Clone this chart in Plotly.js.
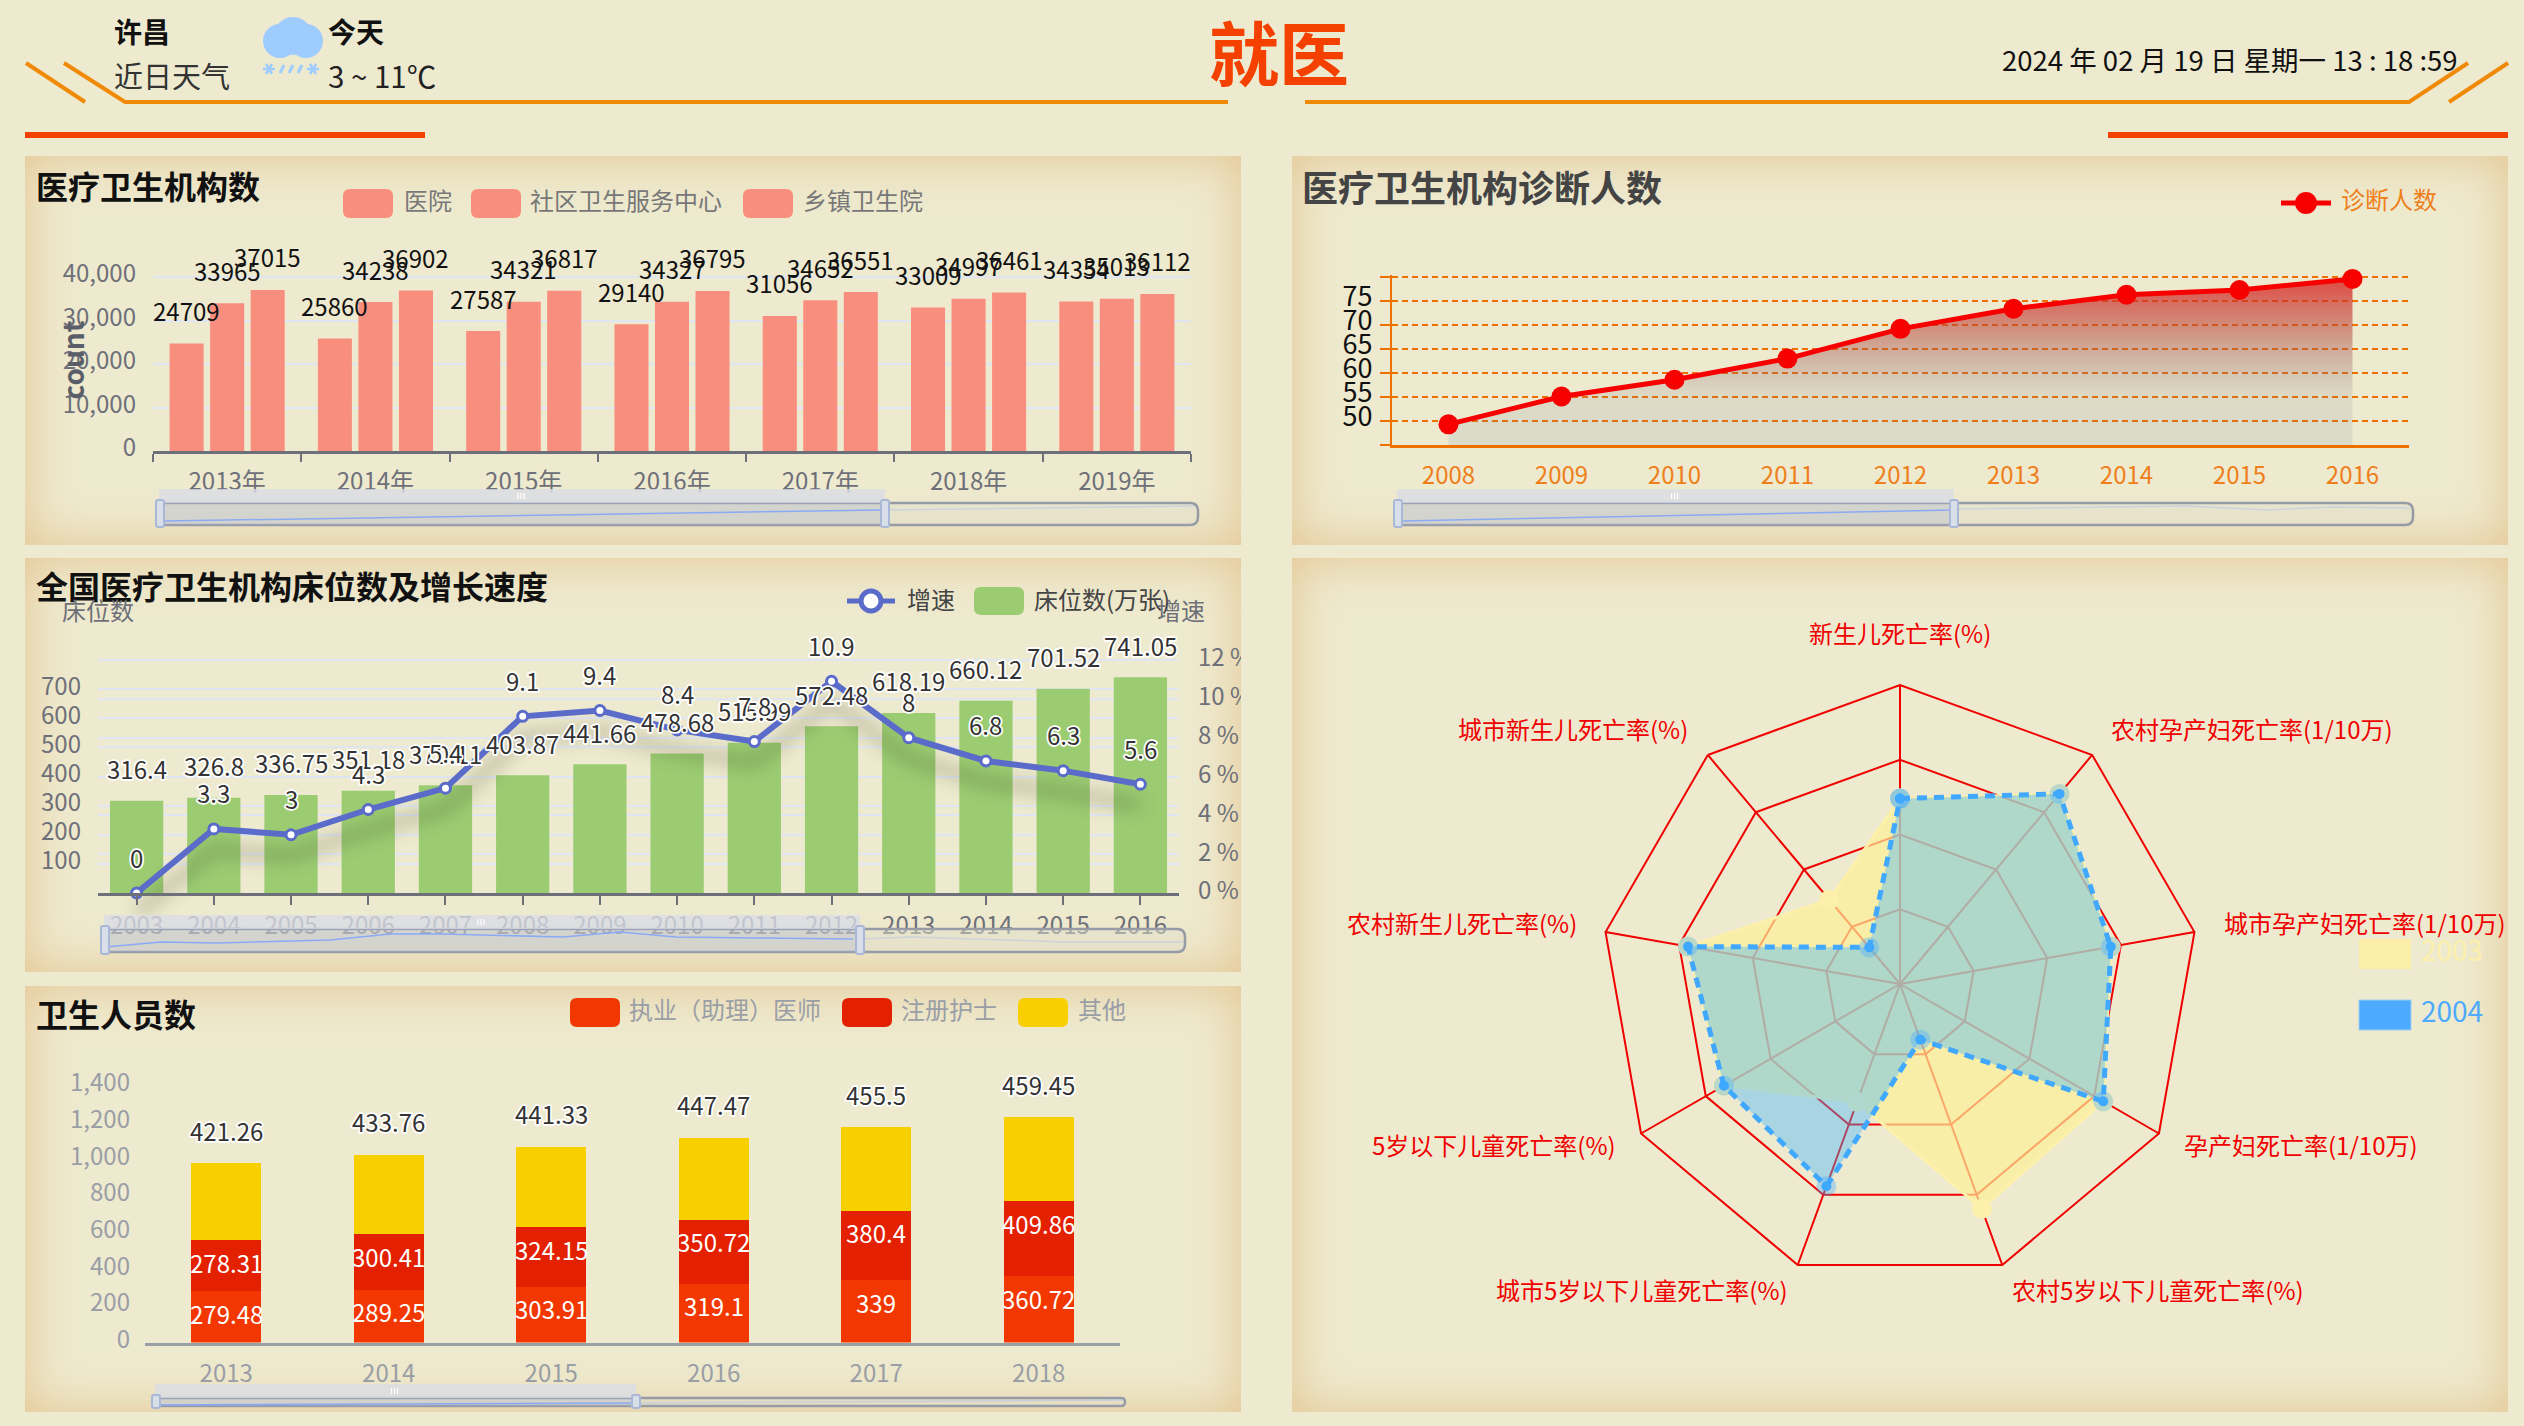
<!DOCTYPE html>
<html lang="zh">
<head>
<meta charset="utf-8">
<title>就医</title>
<script src="https://cdn.plot.ly/plotly-3.0.1.min.js"></script>
<style>
html,body{margin:0;padding:0;background:#EEEACF;width:2524px;height:1426px;overflow:hidden}
.panel{position:absolute;background:#EEEACF;box-shadow:inset 0 0 50px rgba(226,188,130,.8)}
.layer{position:absolute;left:0;top:0;width:2524px;height:1426px;pointer-events:none}
</style>
</head>
<body>
<div class="panel" style="left:25px;top:156px;width:1216px;height:389px"></div>
<div class="panel" style="left:1292px;top:156px;width:1216px;height:389px"></div>
<div class="panel" style="left:25px;top:558px;width:1216px;height:414px"></div>
<div class="panel" style="left:25px;top:986px;width:1216px;height:426px"></div>
<div class="panel" style="left:1292px;top:558px;width:1216px;height:854px"></div>
<div class="layer" id="head"></div>
<div class="layer" id="c1"></div>
<div class="layer" id="c2"></div>
<div class="layer" id="c3" style="clip-path:inset(558px 1283px 454px 25px)"></div>
<div class="layer" id="c4"></div>
<div class="layer" id="c5"></div>
<script>
// ---------- data ----------
const years1 = ['2013年','2014年','2015年','2016年','2017年','2018年','2019年'];
const hospitals = [24709,25860,27587,29140,31056,33009,34354];
const communityCentres = [33965,34238,34321,34327,34652,34997,35013];
const townshipCentres = [37015,36902,36817,36795,36551,36461,36112];

const years2 = ['2008','2009','2010','2011','2012','2013','2014','2015','2016'];
const diagnosed = [49.3,55.1,58.6,63,69.2,73.4,76.3,77.3,79.6];
const diagTickVals = [45,50,55,60,65,70,75,80];
const diagTickText = ['','50','55','60','65','70','75',''];

const years3 = ['2003','2004','2005','2006','2007','2008','2009','2010','2011','2012','2013','2014','2015','2016'];
const beds = [316.4,326.8,336.75,351.18,370.11,403.87,441.66,478.68,515.99,572.48,618.19,660.12,701.52,741.05];
const growth = [0,3.3,3,4.3,5.4,9.1,9.4,8.4,7.8,10.9,8,6.8,6.3,5.6];
const bedTickVals = [0,100,200,300,400,500,600,700,800];
const bedTickText = ['','100','200','300','400','500','600','700',''];

const years4 = ['2013','2014','2015','2016','2017','2018'];
const doctors = [279.48,289.25,303.91,319.1,339,360.72];
const nurses = [278.31,300.41,324.15,350.72,380.4,409.86];
const otherStaff = [421.26,433.76,441.33,447.47,455.5,459.45];

const indicators = ['新生儿死亡率(%)','农村孕产妇死亡率(1/10万)','城市孕产妇死亡率(1/10万)','孕产妇死亡率(1/10万)','农村5岁以下儿童死亡率(%)','城市5岁以下儿童死亡率(%)','5岁以下儿童死亡率(%)','农村新生儿死亡率(%)','城市新生儿死亡率(%)'];
const rate2003 = [62,83,71.6,78.5,80,42,68,72,36.8];
const rate2004 = [62,83,71.6,78.5,19.8,72,68,72,16];

// ---------- helpers ----------
const W=2524,H=1426,F='"Noto Sans CJK SC","Noto Sans",sans-serif';
const px=x=>x/W, py=y=>1-y/H;
function txt(text,x,y,size,color,o={}){
  const a=o.anchor||'left';
  const dx=a==='left'?-2:(a==='right'?3:0);
  return {text,xref:'paper',yref:'paper',x:px(x+dx),y:py(y-2.5),xanchor:a,yanchor:'middle',showarrow:false,textangle:o.angle||0,
    font:{family:F,size,color,weight:o.weight||400,style:o.style||'normal'}};
}
function rpath(x0,y0,x1,y1,r){
  const X=px,Y=py;
  return `M${X(x0+r)},${Y(y0)} L${X(x1-r)},${Y(y0)} Q${X(x1)},${Y(y0)} ${X(x1)},${Y(y0+r)} L${X(x1)},${Y(y1-r)} Q${X(x1)},${Y(y1)} ${X(x1-r)},${Y(y1)} L${X(x0+r)},${Y(y1)} Q${X(x0)},${Y(y1)} ${X(x0)},${Y(y1-r)} L${X(x0)},${Y(y0+r)} Q${X(x0)},${Y(y0)} ${X(x0+r)},${Y(y0)} Z`;
}
function rrect(x0,y0,x1,y1,r,fill,lc,lw){
  return {type:'path',xref:'paper',yref:'paper',path:rpath(x0,y0,x1,y1,r),fillcolor:fill,line:{color:lc||'rgba(0,0,0,0)',width:lw||0},layer:'above'};
}
function rect(x0,y0,x1,y1,fill,lc,lw){
  return {type:'rect',xref:'paper',yref:'paper',x0:px(x0),x1:px(x1),y0:py(y0),y1:py(y1),fillcolor:fill,line:{color:lc||'rgba(0,0,0,0)',width:lw||0},layer:'above'};
}
function seg(x0,y0,x1,y1,color,width){
  return {type:'line',xref:'paper',yref:'paper',x0:px(x0),x1:px(x1),y0:py(y0),y1:py(y1),line:{color,width},layer:'above'};
}
function poly(pts,color,width){
  return {type:'path',xref:'paper',yref:'paper',path:pts.map((p,i)=>(i?'L':'M')+px(p[0])+','+py(p[1])).join(' '),line:{color,width},fillcolor:'rgba(0,0,0,0)',layer:'above'};
}
function disc(cx,cy,r,fill){
  return {type:'circle',xref:'paper',yref:'paper',x0:px(cx-r),x1:px(cx+r),y0:py(cy-r),y1:py(cy+r),fillcolor:fill,line:{width:0},layer:'above'};
}
// dataZoom-like slider furniture
function slider(s){
  const out=[];
  out.push(rrect(s.left,s.top,s.right,s.bottom,s.rad,'rgba(226,224,206,.5)','#969ba6',2.5));
  out.push(rect(s.left+2,s.top,s.sel,s.bottom,'rgba(170,180,215,.3)'));
  out.push(poly(s.faint,'rgba(170,190,240,.45)',1.5));
  out.push(poly(s.line,'rgba(130,165,250,.9)',1.5));
  out.push(rect(s.left+2,s.handleTop,s.sel,s.top,'rgba(218,221,231,.78)'));
  const mid=(s.left+s.sel)/2;
  [-3,0,3].forEach(d=>out.push(seg(mid+d,s.handleTop+4,mid+d,s.handleTop+10,'#fff',1.2)));
  [s.left+3,s.sel].forEach(x=>out.push(rrect(x-4,s.top-3,x+4,s.bottom+2,2,'#d8dfe8','#aab8d8',2)));
  return out;
}
function base(extra){
  return Object.assign({width:W,height:H,margin:{l:0,r:0,t:0,b:0},paper_bgcolor:'rgba(0,0,0,0)',plot_bgcolor:'rgba(0,0,0,0)',showlegend:false,font:{family:F}},extra);
}
function outline(gd,n){
  gd.querySelectorAll('.annotation').forEach(a=>{
    if(+a.getAttribute('data-index')<n){
      const t=a.querySelector('text');
      if(t){t.style.stroke='#fff';t.style.strokeWidth='3.5px';t.style.paintOrder='stroke';t.style.strokeLinejoin='round';}
    }
  });
}
const cfg={staticPlot:true,displayModeBar:false};
const GRAY='#6e7079',LGRAY='#9a9ea6',GRID='#e0e6f1';

// ---------- header ----------
const ORANGE='#f08a06',RED='#f54100',SKY='#9fccff';
Plotly.newPlot('head',[],base({
  xaxis:{visible:false},yaxis:{visible:false},
  shapes:[
    poly([[64,63],[125,102],[1228,102]],ORANGE,4),
    seg(26,63,85,102,ORANGE,4),
    poly([[1305,102],[2409,102],[2468,63]],ORANGE,4),
    seg(2449,102,2508,63,ORANGE,4),
    rect(25,132,425,138,RED),
    rect(2108,132,2508,138,RED),
    disc(293,36,19,SKY),disc(280,41,17,SKY),disc(306,41,17,SKY),
    seg(263,69,275,69,SKY,2.5),seg(266,64,272,74,SKY,2.5),seg(272,64,266,74,SKY,2.5),
    seg(307,69,319,69,SKY,2.5),seg(310,64,316,74,SKY,2.5),seg(316,64,310,74,SKY,2.5),
    seg(280,73,284,65,SKY,3),seg(289,73,293,65,SKY,3),seg(298,73,302,65,SKY,3)
  ],
  annotations:[
    txt('许昌',114,33,28,'#111',{weight:700}),
    txt('近日天气',114,78,29,'#333'),
    txt('今天',328,33,28,'#111',{weight:700}),
    txt('3 ~ 11℃',328,78,29.5,'#222'),
    txt('就医',1279,53,70,RED,{anchor:'center',weight:700}),
    txt('2024 年 02 月 19 日 星期一 13 : 18 :59',2457,62,27.5,'#111',{anchor:'right'})
  ]
}),cfg);

// ---------- panel 1 ----------
(function(){
  const SAL='#f78e7e';
  const sers=[hospitals,communityCentres,townshipCentres];
  const traces=sers.map((v,i)=>({type:'bar',x:years1,y:v,marker:{color:SAL},name:['医院','社区卫生服务中心','乡镇卫生院'][i]}));
  const labels=[];
  sers.forEach((v,i)=>v.forEach((val,j)=>labels.push({x:j,y:val,xref:'x',yref:'y',text:String(val),showarrow:false,
     xshift:(i-1)*40.5,yshift:33,yanchor:'middle',xanchor:'center',font:{family:F,size:24,color:'#111'}})));
  Plotly.newPlot('c1',traces,base({
    barmode:'group',bargap:0.18,bargroupgap:0.16,
    xaxis:{domain:[px(153),px(1191)],type:'category',range:[-0.5,6.5],tickson:'boundaries',ticks:'outside',ticklen:8,tickwidth:2,tickcolor:GRAY,
      showline:true,linecolor:GRAY,linewidth:3,showgrid:false,tickfont:{family:F,size:24,color:GRAY},ticklabelstandoff:7},
    yaxis:{domain:[py(451),py(275.5)],range:[0,40345],tickmode:'linear',tick0:0,dtick:10000,tickformat:',',gridcolor:GRID,gridwidth:2,zeroline:false,showline:false,ticks:'',
      tickfont:{family:F,size:24,color:GRAY},ticklabelstandoff:16,ticklabelshift:-3},
    annotations:labels.concat([
      txt('医疗卫生机构数',36,187,32,'#111',{weight:700}),
      txt('医院',404,202,24,'#777'),txt('社区卫生服务中心',530,202,24,'#777'),txt('乡镇卫生院',803,202,24,'#777'),
      txt('count',71,363,28,'#5a5e68',{weight:700,angle:-90,anchor:'center'})
    ]),
    shapes:[rrect(343,189,393,218,7,SAL),rrect(471,189,521,218,7,SAL),rrect(743,189,793,218,7,SAL)].concat(slider({
      left:157,right:1198,top:503,bottom:525,rad:8,sel:885,handleTop:489,
      line:[[165,521],[880,510]],faint:[[885,510],[1195,506]]
    }))
  }),cfg);
})();

// ---------- panel 2 ----------
(function(){
  const OR='#ee7000';
  Plotly.newPlot('c2',[{type:'scatter',mode:'lines+markers',x:years2,y:diagnosed,name:'诊断人数',cliponaxis:false,
      line:{color:'#f60000',width:5},marker:{color:'#f60000',size:20},
      fill:'tozeroy',fillgradient:{type:'vertical',start:45,stop:80,colorscale:[[0,'rgba(80,110,170,.12)'],[0.3,'rgba(120,110,130,.14)'],[0.65,'rgba(180,70,60,.5)'],[1,'rgba(222,30,30,.8)']]}}],
  base({
    xaxis:{domain:[px(1392),px(2409)],type:'category',range:[-0.5,8.5],showgrid:false,showline:true,linecolor:OR,linewidth:3,ticks:'',
      tickfont:{family:F,size:24,color:'#ee7f1a'},ticklabelstandoff:7},
    yaxis:{domain:[py(445),py(275.1)],range:[45,80.4],tickmode:'array',tickvals:diagTickVals,ticktext:diagTickText,gridcolor:OR,griddash:'6px,4px',gridwidth:2,
      zeroline:false,showline:true,linecolor:OR,linewidth:2,ticks:'outside',ticklen:10,tickcolor:OR,tickwidth:2,
      tickfont:{family:F,size:27,color:'#111'},ticklabelstandoff:2,ticklabelshift:-4},
    annotations:[
      txt('医疗卫生机构诊断人数',1302,189,36,'#444',{weight:700}),
      txt('诊断人数',2341,201,24,'#ee7f1a')
    ],
    shapes:[seg(2281,203,2331,203,'#f60000',5),disc(2306,203,11,'#f60000')
    ].concat(slider({left:1395,right:2413,top:503,bottom:525,rad:8,sel:1954,handleTop:489,
      line:[[1402,521],[1954,510]],faint:[[1956,509],[2187,506],[2267,510],[2332,507],[2410,508]]}))
  }),cfg);
})();

// ---------- panel 3 ----------
(function(){
  const BLUE='#5a6bc9',GREEN='#9bcc72';
  const labels=[];
  beds.forEach((v,i)=>labels.push({x:i,y:v,xref:'x',yref:'y',text:String(v),showarrow:false,yshift:32,yanchor:'middle',xanchor:'center',
    font:{family:F,size:24,color:'#333'}}));
  growth.forEach((v,i)=>labels.push({x:i,y:v,xref:'x',yref:'y2',text:String(v),showarrow:false,yshift:36,yanchor:'middle',xanchor:'center',
    font:{family:F,size:24,color:'#333'}}));
  Plotly.newPlot('c3',[
    {type:'bar',x:years3,y:beds,name:'床位数(万张)',marker:{color:GREEN}},
    {type:'scatter',mode:'lines',x:years3,y:growth,yaxis:'y2',cliponaxis:false,line:{color:'rgba(40,40,20,.3)',width:9},hoverinfo:'skip'},
    {type:'scatter',mode:'lines+markers',x:years3,y:growth,yaxis:'y2',name:'增速',cliponaxis:false,line:{color:BLUE,width:6},
      marker:{color:'#fff',size:10,line:{color:BLUE,width:3}}}
  ],base({
    bargap:0.31,
    xaxis:{domain:[px(98),px(1179)],type:'category',range:[-0.5,13.5],showgrid:false,showline:true,linecolor:GRAY,linewidth:3,ticks:'outside',ticklen:9,tickwidth:2,tickcolor:GRAY,
      tickfont:{family:F,size:24,color:GRAY},ticklabelstandoff:0},
    yaxis:{domain:[py(893),py(658.25)],range:[0,806],tickmode:'array',tickvals:bedTickVals,ticktext:bedTickText,gridcolor:GRID,gridwidth:2,zeroline:false,ticks:'',
      tickfont:{family:F,size:24,color:GRAY},ticklabelstandoff:16,ticklabelshift:-3},
    yaxis2:{overlaying:'y',side:'right',anchor:'x',range:[0,12.09],tickmode:'linear',tick0:0,dtick:2,ticksuffix:' %',gridcolor:GRID,gridwidth:2,showgrid:true,zeroline:false,ticks:'',
      tickfont:{family:F,size:24,color:GRAY},ticklabelstandoff:18,ticklabelshift:-2},
    annotations:labels.concat([
      txt('全国医疗卫生机构床位数及增长速度',36,587,32,'#111',{weight:700}),
      txt('床位数',98,612,24,GRAY,{anchor:'center'}),
      txt('增速',1181,612,24,GRAY,{anchor:'center'}),
      txt('增速',907,601,24,'#444'),
      txt('床位数(万张)',1034,601,24,'#444')
    ]),
    shapes:[seg(847,601,895,601,BLUE,5),
      {type:'circle',xref:'paper',yref:'paper',x0:px(861),x1:px(881),y0:py(591),y1:py(611),fillcolor:'#fff',line:{color:BLUE,width:5},layer:'above'},
      rrect(974,587,1024,615,7,GREEN)
    ].concat(slider({left:102,right:1185,top:929,bottom:952,rad:8,sel:860,handleTop:915,
      line:[[105,947],[161,942],[217,943],[330,940],[390,934],[443,934],[563,937],[620,932],[676,937],[757,938],[853,939]],
      faint:[[860,939],[910,937],[1006,940],[1062,942],[1183,942]]}))
  }),cfg).then(gd=>{
    const t=gd.querySelectorAll('.scatterlayer .trace');
    if(t[0]){t[0].style.filter='blur(9px)';t[0].style.transform='translateY(21px)';}
    outline(gd,labels.length);
  });
})();

// ---------- panel 4 ----------
(function(){
  const C=['#f23700','#e32000','#f8d000'];
  const labels=otherStaff.map((v,i)=>({x:i,y:doctors[i]+nurses[i]+v,xref:'x',yref:'y',text:String(v),showarrow:false,yshift:33,yanchor:'middle',xanchor:'center',
    font:{family:F,size:24,color:'#333'}}));
  const inner=[];
  doctors.forEach((v,i)=>inner.push({x:i,y:v/2,xref:'x',yref:'y',text:String(v),showarrow:false,yshift:3+i*1.6,yanchor:'middle',xanchor:'center',
    font:{family:F,size:24,color:'#fff'}}));
  nurses.forEach((v,i)=>inner.push({x:i,y:doctors[i]+v/2,xref:'x',yref:'y',text:String(v),showarrow:false,yshift:3+i*2.5,yanchor:'middle',xanchor:'center',
    font:{family:F,size:24,color:'#fff'}}));
  Plotly.newPlot('c4',[
    {type:'bar',x:years4,y:doctors,name:'执业（助理）医师',marker:{color:C[0]}},
    {type:'bar',x:years4,y:nurses,name:'注册护士',marker:{color:C[1]}},
    {type:'bar',x:years4,y:otherStaff,name:'其他',marker:{color:C[2]}}
  ],base({
    barmode:'stack',bargap:0.57,
    xaxis:{domain:[px(145),px(1120)],type:'category',range:[-0.5,5.5],showgrid:false,showline:true,linecolor:LGRAY,linewidth:3,ticks:'',
      tickfont:{family:F,size:24,color:LGRAY},ticklabelstandoff:8},
    yaxis:{domain:[py(1342.5),py(1086)],range:[0,1400],dtick:200,tickformat:',',showgrid:false,zeroline:false,ticks:'',
      tickfont:{family:F,size:24,color:LGRAY},ticklabelstandoff:14,ticklabelshift:-3},
    annotations:labels.concat(inner,[
      txt('卫生人员数',36,1015,32,'#111',{weight:700}),
      txt('执业（助理）医师',629,1011,24,LGRAY),txt('注册护士',901,1011,24,LGRAY),txt('其他',1078,1011,24,LGRAY)
    ]),
    shapes:[rrect(570,998,620,1027,7,C[0]),rrect(842,998,892,1027,7,C[1]),rrect(1018,998,1068,1027,7,C[2])].concat(slider({
      left:153,right:1125,top:1398,bottom:1406,rad:4,sel:636,handleTop:1384,
      line:[[155,1405],[634,1403]],faint:[[638,1403],[1123,1400]]}))
  }),cfg).then(gd=>outline(gd,labels.length));
})();

// ---------- panel 5 ----------
(function(){
  const close=a=>a.concat([a[0]]);
  const th=close(indicators);
  const RR='#f00000',BL='#40a9ff';
  Plotly.newPlot('c5',[
    {type:'scatterpolar',name:'2003',r:close(rate2003),theta:th,mode:'lines+markers',fill:'toself',fillcolor:'rgba(254,240,150,.7)',
      line:{color:'#fcf0ab',width:3},marker:{color:'#fcf0ab',size:20}},
    {type:'scatterpolar',name:'2004',r:close(rate2004),theta:th,mode:'lines+markers',fill:'toself',fillcolor:'rgba(64,180,255,.4)',
      line:{color:BL,width:5,dash:'10px,7px'},marker:{color:BL,size:10,line:{color:'rgba(64,169,255,.35)',width:10}}}
  ],base({
    polar:{domain:{x:[px(1601),px(2199)],y:[py(1283),py(685)]},bgcolor:'rgba(0,0,0,0)',gridshape:'linear',
      angularaxis:{type:'category',categoryorder:'array',categoryarray:indicators,direction:'clockwise',rotation:90,showticklabels:false,ticks:'',gridcolor:RR,gridwidth:2,linecolor:RR,linewidth:2},
      radialaxis:{range:[0,100],tickmode:'array',tickvals:[25,50,75,100],showticklabels:false,ticks:'',showline:false,gridcolor:RR,gridwidth:2}},
    annotations:[
      txt(indicators[0],1900,635,24,RR,{anchor:'center'}),
      txt(indicators[1],2111,731,24,RR),
      txt(indicators[2],2224,925,24,RR),
      txt(indicators[3],2184,1147,24,RR),
      txt(indicators[4],2012,1292,24,RR),
      txt(indicators[5],1787,1292,24,RR,{anchor:'right'}),
      txt(indicators[6],1615,1147,24,RR,{anchor:'right'}),
      txt(indicators[7],1576,925,24,RR,{anchor:'right'}),
      txt(indicators[8],1687,731,24,RR,{anchor:'right'}),
      txt('2003',2421,951,28,'#fcf0ab'),
      txt('2004',2421,1013,28,'#4dabff')
    ],
    shapes:[rect(2359,939,2411,969,'#fbeea8'),rect(2359,1000,2411,1030,'#4dabff','#9fcdf0',1)]
  }),cfg);
})();
</script>
</body>
</html>
